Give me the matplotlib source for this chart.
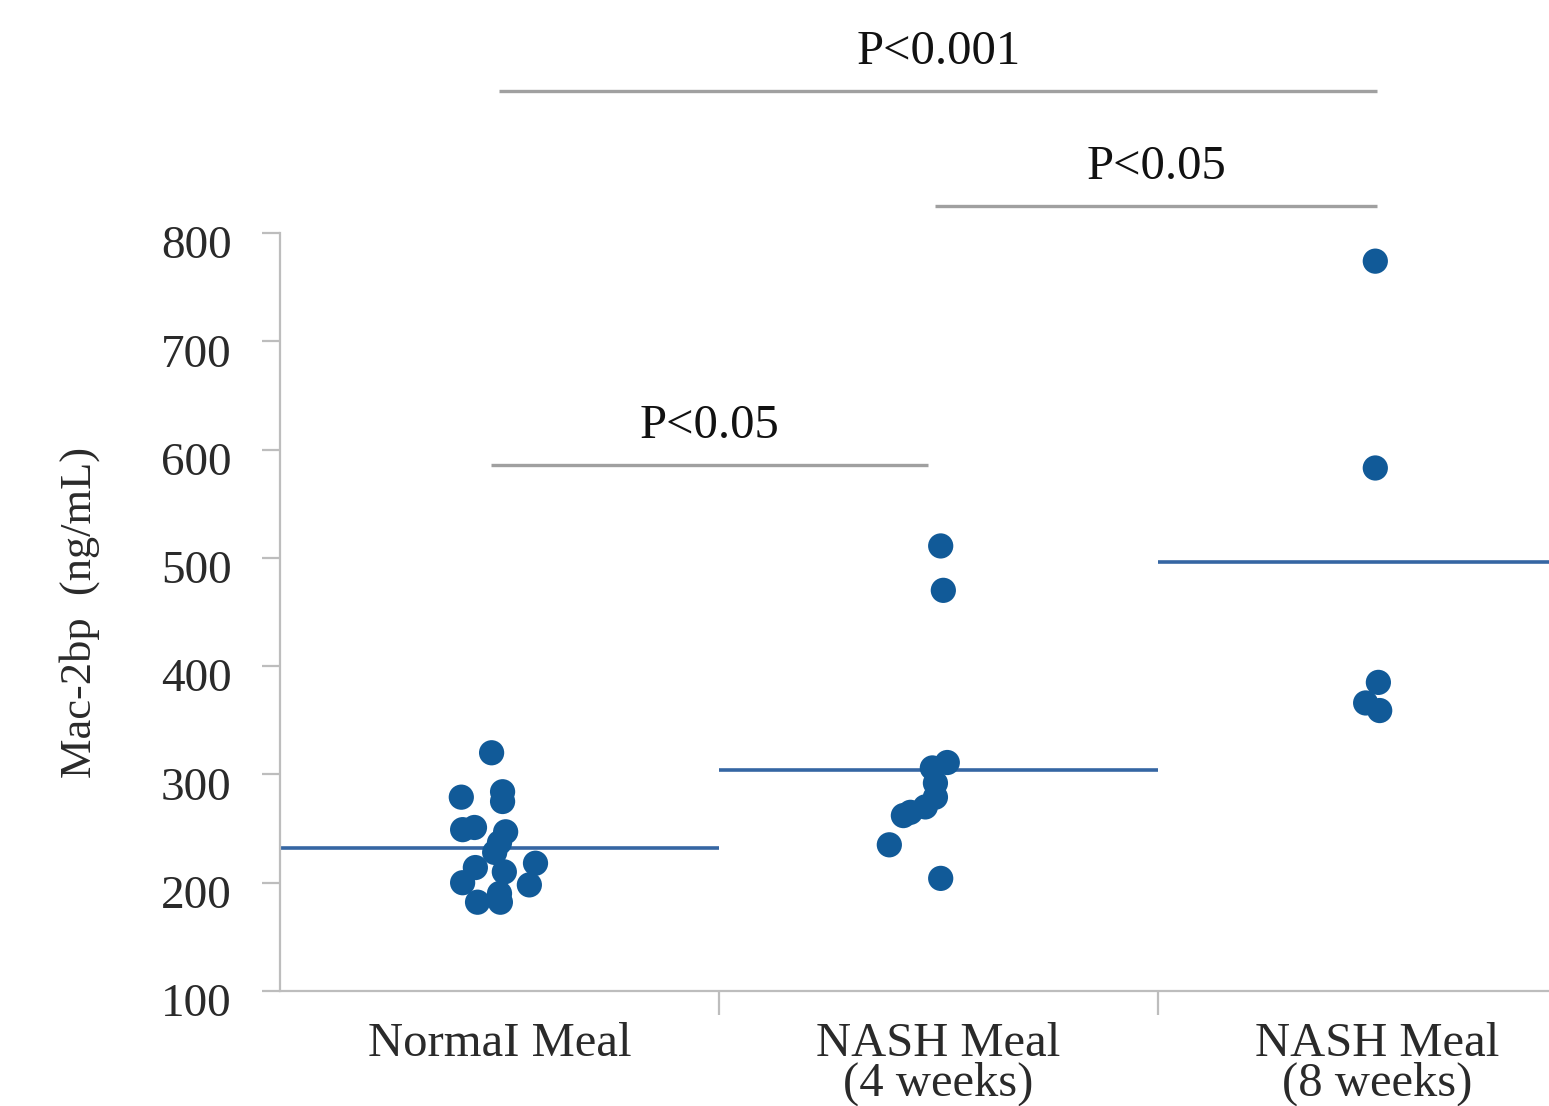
import matplotlib
matplotlib.use("Agg")
import matplotlib.pyplot as plt
from matplotlib.ticker import FixedLocator
from matplotlib.transforms import ScaledTranslation

plt.rcParams['font.family'] = ['Liberation Serif', 'DejaVu Serif']

# ---- data ----
categories = ["NormaI Meal", "NASH Meal\n(4 weeks)", "NASH Meal\n(8 weeks)"]
normal_vals = [320, 279, 284, 275, 249, 251, 247, 237, 228, 218, 214, 210, 200, 198, 190, 182, 182]
normal_jit = [-0.018, -0.087, 0.007, 0.007, -0.084, -0.057, 0.014, 0.0, -0.011, 0.082, -0.055, 0.011, -0.084, 0.068, 0.0, -0.050, 0.002]
nash4_vals = [511, 470, 311, 306, 292, 279, 270, 265, 262, 235, 204]
nash4_jit = [0.005, 0.011, 0.020, -0.014, -0.007, -0.007, -0.030, -0.064, -0.080, -0.112, 0.005]
nash8_vals = [774, 583, 385, 366, 359]
nash8_jit = [-0.005, -0.005, 0.002, -0.027, 0.005]
group_means = [232, 304, 496]
y_ticks = [100, 200, 300, 400, 500, 600, 700, 800]
comparisons = [("P<0.05", 0, 1, 586), ("P<0.05", 1, 2, 825), ("P<0.001", 0, 2, 931)]

dot_color = "#115a98"
mean_color = "#3566a3"
grey = "#a0a0a0"
text_color = "#2a2a2a"

fig = plt.figure(figsize=(15.49, 11.06), dpi=100)
ax = fig.add_axes([280/1549, 115/1106, 1317/1549, 758/1106])
ax.set_xlim(-0.5, 2.5)
ax.set_ylim(100, 800)

groups = [normal_vals, nash4_vals, nash8_vals]
jits = [normal_jit, nash4_jit, nash8_jit]
for i, (vals, jit) in enumerate(zip(groups, jits)):
    xs = [i + j for j in jit]
    ax.scatter(xs, vals, s=330, color=dot_color, edgecolors='none', zorder=3, clip_on=False)
    ax.plot([i - 0.5, i + 0.5], [group_means[i]] * 2, color=mean_color, lw=2.6, zorder=2,
            solid_capstyle='butt')

# spines
for s in ['top', 'right']:
    ax.spines[s].set_visible(False)
for s in ['left', 'bottom']:
    ax.spines[s].set_color("#bdbdbd")
    ax.spines[s].set_linewidth(1.6)

ax.set_yticks(y_ticks)
ax.set_yticklabels([str(v) for v in y_ticks])
ax.tick_params(axis='y', length=13, width=1.6, color="#bdbdbd", pad=22,
               labelsize=34, labelcolor=text_color)
shift = ScaledTranslation(0, -9/100, fig.dpi_scale_trans)
for lab in ax.get_yticklabels():
    lab.set_transform(lab.get_transform() + shift)

ax.set_xticks(range(len(categories)))
ax.set_xticklabels(categories, linespacing=0.88)
ax.tick_params(axis='x', which='major', length=0, pad=22, labelsize=35, labelcolor=text_color)
ax.xaxis.set_minor_locator(FixedLocator([0.5, 1.5]))
ax.tick_params(axis='x', which='minor', length=17, width=1.6, color="#bdbdbd")

fig.text(80/1549, 1 - 612/1106, "Mac-2bp  (ng/mL)", rotation=90, ha='center', va='center',
         fontsize=32, color=text_color)

# significance brackets
for label, a, b, yv in comparisons:
    xa = a - 0.02 if (a, b) == (0, 1) else a
    xb = b - 0.025 if (a, b) == (0, 1) else b
    if (a, b) == (1, 2):
        xa = a - 0.008
    ax.plot([xa, xb], [yv, yv], color=grey, lw=2.4, clip_on=False, solid_capstyle='butt')
    ax.text((xa + xb) / 2, yv + 25, label, ha='center', va='baseline', fontsize=35,
            color="#111111", clip_on=False)

fig.savefig("out.png", dpi=100)
